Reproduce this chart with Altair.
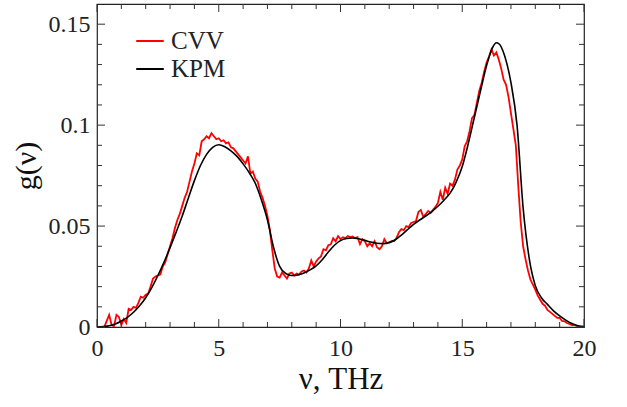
import altair as alt
import pandas as pd

# ---- data ----
cvv_x = [round(i * 0.1, 1) for i in range(201)]
cvv_g = [
    0.0, 0.0, 0.0, 0.0, 0.003, 0.006, 0.001, 0.0005, 0.006, 0.005,
    0.001, 0.004, 0.002, 0.009, 0.0085, 0.010, 0.0095, 0.012, 0.015, 0.0145,
    0.016, 0.0165, 0.020, 0.024, 0.025, 0.0255, 0.026, 0.030, 0.032, 0.036,
    0.040, 0.044, 0.049, 0.053, 0.056, 0.060, 0.064, 0.067, 0.072, 0.077,
    0.081, 0.086, 0.085, 0.092, 0.093, 0.0945, 0.0935, 0.096, 0.0945, 0.093,
    0.0935, 0.092, 0.0925, 0.091, 0.0915, 0.089, 0.0885, 0.087, 0.0855, 0.084,
    0.0825, 0.081, 0.0845, 0.076, 0.077, 0.0735, 0.072, 0.067, 0.064, 0.060,
    0.055, 0.048, 0.038, 0.029, 0.025, 0.0245, 0.027, 0.0255, 0.024, 0.0265,
    0.027, 0.0255, 0.0265, 0.026, 0.0275, 0.028, 0.027, 0.029, 0.033, 0.030,
    0.0325, 0.034, 0.035, 0.0385, 0.038, 0.0405, 0.041, 0.044, 0.0425, 0.045,
    0.0435, 0.0445, 0.044, 0.045, 0.0445, 0.0448, 0.044, 0.0445, 0.041, 0.0435,
    0.0425, 0.040, 0.0415, 0.040, 0.0425, 0.0395, 0.0385, 0.040, 0.0435, 0.0415,
    0.042, 0.0425, 0.0425, 0.044, 0.047, 0.0485, 0.048, 0.050, 0.0495, 0.0515,
    0.052, 0.0525, 0.057, 0.058, 0.0545, 0.056, 0.0575, 0.0565, 0.058, 0.0595,
    0.0615, 0.067, 0.063, 0.069, 0.066, 0.071, 0.070, 0.073, 0.078, 0.080,
    0.083, 0.0895, 0.092, 0.097, 0.1035, 0.105, 0.111, 0.117, 0.121, 0.1265,
    0.131, 0.134, 0.1375, 0.1345, 0.136, 0.1325, 0.128, 0.1225, 0.120, 0.114,
    0.106, 0.098, 0.090, 0.070, 0.052, 0.040, 0.0335, 0.028, 0.0235, 0.021,
    0.0185, 0.0155, 0.0135, 0.0115, 0.0105, 0.0085, 0.0075, 0.0065, 0.0055, 0.0045,
    0.0045, 0.003, 0.0028, 0.002, 0.0015, 0.001, 0.001, 0.0005, 0.0003, 0.0002,
    0.0,
]

kpm_x = [0.0, 0.25, 0.5, 0.75, 1.0, 1.25, 1.5, 1.75, 2.0, 2.25, 2.5, 2.75,
         3.0, 3.25, 3.5, 3.75, 4.0, 4.25, 4.5, 4.75, 5.0, 5.25, 5.5, 5.75,
         6.0, 6.25, 6.5, 6.75, 7.0, 7.25, 7.5, 7.75, 8.0, 8.25, 8.5, 8.75,
         9.0, 9.25, 9.5, 9.75, 10.0, 10.25, 10.5, 10.75, 11.0, 11.25, 11.5, 11.75,
         12.0, 12.25, 12.5, 12.75, 13.0, 13.25, 13.5, 13.75, 14.0, 14.25, 14.5, 14.75,
         15.0, 15.25, 15.5, 15.75, 16.0, 16.25, 16.4, 16.5, 16.75, 17.0, 17.25, 17.5,
         17.75, 18.0, 18.25, 18.5, 18.75, 19.0, 19.25, 19.5, 19.75, 20.0]
kpm_g = [0.0, 0.0002, 0.0006, 0.0015, 0.003, 0.0048, 0.0073, 0.0105, 0.0145, 0.0195, 0.0255, 0.032,
         0.0393, 0.047, 0.055, 0.0638, 0.0725, 0.0800, 0.0855, 0.0890, 0.0903, 0.0893, 0.0873, 0.0845,
         0.0808, 0.0765, 0.0712, 0.0630, 0.0530, 0.0395, 0.0300, 0.0265, 0.0255, 0.0258, 0.0268, 0.0283,
         0.0303, 0.0333, 0.0371, 0.0405, 0.0428, 0.0438, 0.0441, 0.0437, 0.0429, 0.0421, 0.0415, 0.0413,
         0.0418, 0.0432, 0.0455, 0.0482, 0.0508, 0.0530, 0.0550, 0.0572, 0.0598, 0.0628, 0.0663, 0.0718,
         0.0795, 0.0910, 0.1040, 0.1170, 0.1295, 0.1385, 0.1408, 0.1404, 0.1340, 0.1210, 0.1000, 0.0590,
         0.0340, 0.0205, 0.0145, 0.0112, 0.0080, 0.0055, 0.0034, 0.0017, 0.0006, 0.0002]

series_names = ["CVV", "KPM"]
series_colors = ["#ff0000", "#000000"]

x_major = [0, 5, 10, 15, 20]
x_minor = [v for v in range(1, 20) if v % 5 != 0]
y_major = [0, 0.05, 0.1, 0.15]
y_minor = [0.01, 0.02, 0.03, 0.04, 0.06, 0.07, 0.08, 0.09, 0.11, 0.12, 0.13, 0.14]

x_title = "ν, THz"
y_title = "g(ν)"

# ---- chart ----
W, H = 487, 323
FONT = "Liberation Serif"

xs = alt.Scale(domain=[0, 20], nice=False, zero=False)
ys = alt.Scale(domain=[0, 0.16], nice=False, zero=False)

cvv_df = pd.DataFrame({"nu": cvv_x, "g": cvv_g, "series": "CVV"})
kpm_df = pd.DataFrame({"nu": kpm_x, "g": kpm_g, "series": "KPM"})

color = alt.Color(
    "series:N",
    scale=alt.Scale(domain=series_names, range=series_colors),
    sort=series_names,
    legend=alt.Legend(
        title=None, orient="none", legendX=38, legendY=22,
        symbolType="stroke", symbolSize=760, symbolStrokeWidth=2,
        labelFont=FONT, labelFontSize=25, labelColor="#222",
        rowPadding=0, labelOffset=6, padding=0,
    ),
)

x_axis = alt.Axis(values=x_major, ticks=False, grid=False, domain=False,
                  labelFlush=False,
                  labelFont=FONT, labelFontSize=24, labelColor="#222",
                  labelPadding=9, titleFont=FONT, titleFontSize=31,
                  titleFontWeight="normal", titleColor="#111", titlePadding=4)
y_axis = alt.Axis(values=y_major, ticks=False, grid=False, domain=False,
                  labelFlush=False,
                  labelExpr="'' + datum.value",
                  labelFont=FONT, labelFontSize=24, labelColor="#222",
                  labelPadding=7, titleFont=FONT, titleFontSize=30,
                  titleFontWeight="normal", titleColor="#111", titlePadding=7)

cvv_line = alt.Chart(cvv_df).mark_line(strokeWidth=1.8).encode(
    x=alt.X("nu:Q", scale=xs, title=x_title, axis=x_axis),
    y=alt.Y("g:Q", scale=ys, title=y_title, axis=y_axis),
    color=color)
kpm_line = alt.Chart(kpm_df).mark_line(strokeWidth=1.6, interpolate="monotone").encode(
    x=alt.X("nu:Q", scale=xs, title=x_title, axis=x_axis),
    y=alt.Y("g:Q", scale=ys, title=y_title, axis=y_axis),
    color=color)

tick_color = "#333"
xmaj = pd.DataFrame({"t": x_major})
xmin = pd.DataFrame({"t": x_minor})
ymaj = pd.DataFrame({"t": y_major})
ymin = pd.DataFrame({"t": y_minor})


def xticks(df, length):
    base = alt.Chart(df).mark_rule(color=tick_color, strokeWidth=1)
    bottom = base.encode(x=alt.X("t:Q", scale=xs, title=x_title, axis=x_axis),
                         y=alt.value(H), y2=alt.value(H - length))
    top = base.encode(x=alt.X("t:Q", scale=xs, title=x_title, axis=x_axis),
                      y=alt.value(0), y2=alt.value(length))
    return [bottom, top]


def yticks(df, length):
    base = alt.Chart(df).mark_rule(color=tick_color, strokeWidth=1)
    left = base.encode(y=alt.Y("t:Q", scale=ys, title=y_title, axis=y_axis),
                       x=alt.value(0), x2=alt.value(length))
    right = base.encode(y=alt.Y("t:Q", scale=ys, title=y_title, axis=y_axis),
                        x=alt.value(W), x2=alt.value(W - length))
    return [left, right]


layers = ([cvv_line, kpm_line] + xticks(xmaj, 8) + xticks(xmin, 5)
          + yticks(ymaj, 8) + yticks(ymin, 5))

chart = alt.layer(*layers).properties(
    width=W, height=H,
    autosize=alt.AutoSizeParams(type="none"),
    padding={"left": 97, "top": 4, "right": 43, "bottom": 80},
    background="white",
).configure_view(stroke="#222", strokeWidth=1.2)

chart.save("out.html", embed_options={"renderer": "svg", "actions": False})
